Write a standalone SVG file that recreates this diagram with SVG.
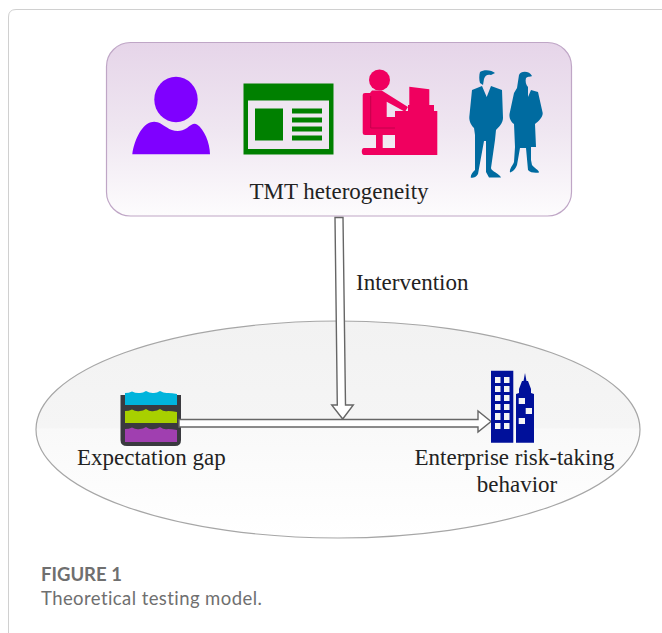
<svg xmlns="http://www.w3.org/2000/svg" width="662" height="633" viewBox="0 0 662 633">
<defs>
<linearGradient id="boxFill" x1="0" y1="0" x2="0" y2="1"><stop offset="0" stop-color="#e6d5e9"/><stop offset="0.5" stop-color="#efe6f1"/><stop offset="1" stop-color="#fdfcfd"/></linearGradient>
<linearGradient id="ellFill" x1="0" y1="0" x2="0" y2="1"><stop offset="0" stop-color="#f2f2f2"/><stop offset="0.49" stop-color="#f5f5f5"/><stop offset="0.5" stop-color="#f9f9f9"/><stop offset="1" stop-color="#ffffff"/></linearGradient>
</defs>
<style>
.t{font-family:"Liberation Serif","Times New Roman",serif;font-size:23px;fill:#222}
.cap{font-family:"Lato","Noto Sans",sans-serif;fill:#6f6f6f;font-size:18.500px}
.arrow{fill:#fff;stroke:#666;stroke-width:1.400}
.blue{fill:#006ba0}.pink{fill:#f0005f}.navy{fill:#00109a}
</style>
<rect width="662" height="633" fill="#fff"/>
<path d="M8.500 633V17Q8.500 9.500 16 9.500H662" fill="none" stroke="#d0d0d0" stroke-width="1"/>
<g id="ellipse-context"><ellipse cx="338" cy="429.500" rx="302" ry="108.500" fill="url(#ellFill)" stroke="#a6a6a6" stroke-width="1.200"/></g>
<g id="node-tmt">
<rect x="106.500" y="42.500" width="465" height="173.500" rx="24" fill="url(#boxFill)" stroke="#bfa6c6" stroke-width="1.200"/>
<g id="icon-person" fill="#7f00ff">
<ellipse cx="176" cy="99.500" rx="21.700" ry="22.800"/>
<path d="M132.300 154.300C134 141 141 126 150 122.500C157 120 161 124 167 127.500C172 131 180 133 187 128C191 125 194 122.500 197 124.500C204 129 210 143 210 154.300Z"/>
</g>
<g id="icon-document">
<rect x="243.500" y="83.500" width="90" height="71" fill="#008000"/>
<rect x="248" y="100.500" width="81" height="48.500" fill="#efe6f1"/>
<rect x="255" y="108.500" width="28" height="32" fill="#008000"/>
<g fill="#008000"><rect x="292" y="108.500" width="30" height="5"/><rect x="292" y="117.500" width="30" height="5"/><rect x="292" y="126.500" width="30" height="5"/><rect x="292" y="135.500" width="30" height="5"/></g>
</g>
<g id="icon-desk" class="pink">
<circle cx="379.500" cy="80" r="10.500"/>
<path d="M372 90.500H381.700L408 107L405 111.700L386.700 101.700V117H395V128H370V93Z"/>
<path d="M365 93H370.700V128H395V135H382.700V148H395V155H364C361 155 361 148 364 148H376V135H365Q362.700 135 362.700 133V95Q362.700 93 365 93Z"/>
<rect x="395" y="111" width="42.300" height="44"/>
<path d="M409.300 86.700L429.300 89.300V105H434V111H408V105H409.300Z"/>
<path d="M370.700 96V128H395" fill="none" stroke="#b80048" stroke-width="0.800"/>
</g>
<g id="icon-people" class="blue">
<path d="M480 72C484 69 492 70 495 73L491 75C488 74 485 75 484 79L483 85L480 83C479 80 479 75 480 72Z"/>
<path d="M482 86L486.700 97L491 86L502 90L503 118C503 123 499 127 496 130L495 140L491 168C491 171 500 174 501 177.500H489L486 172L486 141H484L478 174C476 178 472 178 470.700 177.500C470.700 174 473 172 475 170L475 135L474 128C472 126 469 122 469.300 117L472 90Z"/>
<path d="M519 75C521 70 530 71 532 76C531 77 528 76 526 78C525 81 526 85 528 87L528 97L531 90L538 92L542.700 113C543 117 538 122 535 124L536 147L531 147L531 160L532 165C534 168 539 170 539 172.500C536 173 530 173 528 170L526 148H520L517 165C515 170 512 172 510 172.500C509 169 513 165 514 162L515 147L514 124C511 122 509 118 509.500 114L514 93L517 88Z"/>
</g>
<text class="t" x="339" y="199" text-anchor="middle">TMT heterogeneity</text>
</g>
<g id="node-gap">
<path d="M120.500 395H125V421H177V395H181V440Q181 446 175 446H127Q120.500 446 120.500 440Z" fill="#3a3a3f"/>
<rect x="125" y="405" width="52" height="24" fill="#3a3a3f"/>
<path d="M125 393Q129 393 132 391.500Q136 393.500 140 393Q143 393 146 391Q150 393.500 154 393Q157 393 160 391Q164 393.500 168 393Q172 393 177 394V405H125Z" fill="#00b4dc"/>
<path d="M125 411Q129 411 132 409.500Q136 412 140 411Q143 411 146 409Q150 412 154 411Q157 411 160 409Q164 412 168 411Q172 411 177 412V423H125Z" fill="#a8d000"/>
<path d="M125 429Q129 429 132 427.500Q136 430 140 429Q143 429 146 427Q150 430 154 429Q157 429 160 427Q164 430 168 429Q172 429 177 430V442H125Z" fill="#a03fb0"/>
</g>
<g id="connectors">
<path class="arrow" d="M335 217.500H343L345.500 405H353.300L342.700 419L331.700 405H337.300Z"/>
<path class="arrow" d="M179 419.500H478V411L491 421.500L478 432V427H179Z"/>
</g>
<text class="t" x="356" y="290">Intervention</text>
<text class="t" x="77" y="465">Expectation gap</text>
<text class="t" x="514.500" y="465" text-anchor="middle">Enterprise risk-taking</text>
<text class="t" x="517" y="492" text-anchor="middle">behavior</text>
<g id="node-risk" class="navy">
<path fill-rule="evenodd" d="M491 370.700H513.300V442.700H491ZM495 377V383H500.500V377ZM504 377V383H509.500V377ZM495 386V392H500.500V386ZM504 386V392H509.500V386ZM495 395V401H500.500V395ZM504 395V401H509.500V395ZM495 404V410H500.500V404ZM504 404V410H509.500V404ZM495 413V420H500.500V413ZM504 413V420H509.500V413ZM495 423V429H500.500V423ZM504 423V429H509.500V423Z"/>
<path fill-rule="evenodd" d="M525 373L526.500 381H528L531 389V393L534 394V442.700H516V394L519 393V389L522 381H523.500ZM518.700 398V404H525V398ZM525.700 408V414H532V408ZM518.700 418V424H525V418Z"/>
</g>
<text class="cap" x="41" y="581" font-weight="700">FIGURE 1</text>
<text class="cap" x="41" y="605" letter-spacing="0.420">Theoretical testing model.</text>
</svg>
